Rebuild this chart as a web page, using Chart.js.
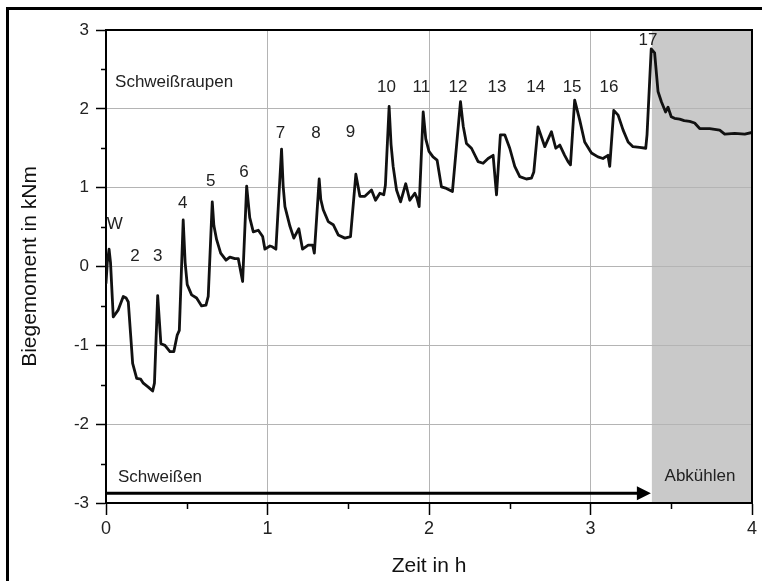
<!DOCTYPE html>
<html>
<head>
<meta charset="utf-8">
<script src="https://cdn.jsdelivr.net/npm/chart.js@4.4.0/dist/chart.umd.min.js"></script>
<style>
  html, body { margin: 0; padding: 0; background: #fff; }
  #wrap { width: 762px; height: 581px; }
</style>
</head>
<body>
<div id="wrap"><canvas id="chart" width="762" height="581"></canvas></div>
<script>
// ── Data ─────────────────────────────────────────────────────────────────────

const timeH = [
  0, 0.008, 0.019, 0.028, 0.045, 0.076, 0.107, 0.125, 0.138, 0.152,
  0.165, 0.19, 0.215, 0.231, 0.262, 0.289, 0.3, 0.32, 0.34, 0.365,
  0.396, 0.42, 0.441, 0.454, 0.478, 0.49, 0.503, 0.53, 0.561, 0.592, 0.619,
  0.633, 0.658, 0.668, 0.685, 0.71, 0.743, 0.767, 0.798, 0.819, 0.846, 0.871,
  0.89, 0.912, 0.943, 0.97, 0.984, 1.015, 1.03, 1.052, 1.087, 1.097, 1.108, 1.139,
  1.163, 1.194, 1.217, 1.252, 1.28, 1.29, 1.32, 1.33, 1.345, 1.376, 1.407,
  1.438, 1.479, 1.514, 1.547, 1.572, 1.603, 1.644, 1.669, 1.696, 1.72,
  1.73, 1.753, 1.765, 1.778, 1.799, 1.824, 1.856, 1.881, 1.912, 1.925, 1.939,
  1.964, 1.98, 2.0, 2.025, 2.05, 2.077, 2.108, 2.145, 2.195, 2.212, 2.232, 2.263,
  2.304, 2.335, 2.366, 2.397, 2.418, 2.442, 2.469, 2.5, 2.531, 2.562,
  2.603, 2.634, 2.649, 2.675, 2.717, 2.758, 2.785, 2.81, 2.84, 2.861,
  2.876, 2.902, 2.933, 2.964, 3.006, 3.046, 3.077, 3.108, 3.119, 3.144,
  3.171, 3.202, 3.233, 3.263, 3.304, 3.342, 3.35, 3.376, 3.397, 3.418,
  3.439, 3.465, 3.48, 3.5, 3.52, 3.552, 3.58, 3.614, 3.645, 3.676, 3.738, 3.8,
  3.831, 3.893, 3.955, 4.0
];

const momentKNm = [
  -0.21, 0.05, 0.22, 0.05, -0.64, -0.55, -0.38, -0.40, -0.45, -0.85,
  -1.23, -1.42, -1.43, -1.48, -1.53, -1.58, -1.48, -0.37, -0.98, -1.00,
  -1.08, -1.08, -0.87, -0.81, 0.59, 0.05, -0.23, -0.36, -0.40, -0.50, -0.49,
  -0.38, 0.82, 0.52, 0.34, 0.17, 0.08, 0.12, 0.10, 0.10, -0.19, 1.02,
  0.62, 0.44, 0.46, 0.38, 0.22, 0.26, 0.25, 0.22, 1.49, 1.02, 0.76, 0.51,
  0.36, 0.48, 0.22, 0.27, 0.27, 0.17, 1.11, 0.85, 0.72, 0.57, 0.53,
  0.40, 0.36, 0.38, 1.17, 0.89, 0.89, 0.97, 0.84, 0.93, 0.91,
  1.03, 2.03, 1.55, 1.27, 0.97, 0.82, 1.05, 0.84, 0.93, 0.87, 0.76,
  1.96, 1.62, 1.46, 1.39, 1.35, 1.01, 0.99, 0.95, 2.09, 1.78, 1.56, 1.50,
  1.33, 1.31, 1.37, 1.41, 0.91, 1.67, 1.67, 1.50, 1.27, 1.14,
  1.11, 1.12, 1.20, 1.77, 1.52, 1.71, 1.50, 1.54, 1.41, 1.33,
  1.29, 2.11, 1.86, 1.58, 1.44, 1.39, 1.37, 1.41, 1.27, 1.98,
  1.92, 1.73, 1.58, 1.52, 1.51, 1.50, 1.67, 2.76, 2.71, 2.22,
  2.09, 1.96, 2.02, 1.90, 1.88, 1.87, 1.85, 1.84, 1.82, 1.75, 1.75, 1.73,
  1.68, 1.69, 1.68, 1.70
];

const xTicks = [0, 1, 2, 3, 4];
const yTicks = [-3, -2, -1, 0, 1, 2, 3];
const xMinorTicks = [0.5, 1.5, 2.5, 3.5];
const yMinorTicks = [-2.5, -1.5, -0.5, 0.5, 1.5, 2.5];

// bead numbers (Schweißraupen) and where they sit, in chart units
const beadNames = ['W', '2', '3', '4', '5', '6', '7', '8', '9', '10', '11', '12', '13', '14', '15', '16', '17'];
const beadAtH   = [0.054, 0.18, 0.32, 0.475, 0.648, 0.854, 1.081, 1.30, 1.514, 1.737, 1.953, 2.18, 2.421, 2.661, 2.886, 3.115, 3.356];
const beadAtKNm = [0.54, 0.13, 0.13, 0.80, 1.08, 1.20, 1.69, 1.69, 1.70, 2.27, 2.27, 2.27, 2.27, 2.27, 2.27, 2.27, 2.87];

const coolingFrom = 3.38;   // Abkühlen phase starts here (h)
const weldArrowAt = -2.877; // kNm level of the Schweißen arrow

// ── Chart ────────────────────────────────────────────────────────────────────

const FONT = "'Liberation Sans', Arial, sans-serif";

const decor = {
  id: 'decor',
  beforeDraw(chart) {
    const { ctx, chartArea: a, scales: { x } } = chart;
    const x0 = x.getPixelForValue(coolingFrom);
    ctx.save();
    ctx.fillStyle = '#c9c9c9';
    ctx.fillRect(x0, a.top, a.right - x0, a.bottom - a.top);
    ctx.restore();
  },
  afterDraw(chart) {
    const { ctx, chartArea: a, scales: { x, y } } = chart;
    ctx.save();

    // frame on top / right
    ctx.strokeStyle = '#000';
    ctx.lineWidth = 2;
    ctx.beginPath();
    ctx.moveTo(a.left, a.top);
    ctx.lineTo(a.right, a.top);
    ctx.lineTo(a.right, a.bottom);
    ctx.stroke();

    // minor ticks
    ctx.lineWidth = 1.5;
    ctx.beginPath();
    xMinorTicks.forEach(v => {
      const px = Math.round(x.getPixelForValue(v)) + 0.5;
      ctx.moveTo(px, a.bottom);
      ctx.lineTo(px, a.bottom + 6);
    });
    yMinorTicks.forEach(v => {
      const py = Math.round(y.getPixelForValue(v)) + 0.5;
      ctx.moveTo(a.left, py);
      ctx.lineTo(a.left - 5, py);
    });
    ctx.stroke();

    // bead labels
    ctx.fillStyle = '#222';
    ctx.font = '17px ' + FONT;
    ctx.textAlign = 'center';
    ctx.textBaseline = 'middle';
    beadNames.forEach((t, i) => {
      ctx.fillText(t, x.getPixelForValue(beadAtH[i]), y.getPixelForValue(beadAtKNm[i]));
    });

    ctx.textAlign = 'left';
    ctx.fillText('Schweißraupen', x.getPixelForValue(0.056), y.getPixelForValue(2.34));
    ctx.fillText('Schweißen', x.getPixelForValue(0.074), y.getPixelForValue(-2.68));
    ctx.textAlign = 'center';
    ctx.fillText('Abkühlen', x.getPixelForValue(3.678), y.getPixelForValue(-2.667));

    // Schweißen arrow
    const ay = y.getPixelForValue(weldArrowAt);
    const tip = x.getPixelForValue(coolingFrom) - 1;
    ctx.strokeStyle = '#000';
    ctx.lineWidth = 3;
    ctx.beginPath();
    ctx.moveTo(a.left, ay);
    ctx.lineTo(tip - 10, ay);
    ctx.stroke();
    ctx.fillStyle = '#000';
    ctx.beginPath();
    ctx.moveTo(tip, ay);
    ctx.lineTo(tip - 14, ay - 7);
    ctx.lineTo(tip - 14, ay + 7);
    ctx.closePath();
    ctx.fill();

    // outer picture frame
    ctx.lineWidth = 3;
    ctx.strokeRect(7.5, 8.5, 800, 800);
    ctx.restore();
  }
};

new Chart(document.getElementById('chart'), {
  type: 'line',
  data: {
    datasets: [{
      data: timeH.map((t, i) => ({ x: t, y: momentKNm[i] })),
      borderColor: '#111',
      borderWidth: 2.8,
      borderJoinStyle: 'round',
      borderCapStyle: 'round',
      pointRadius: 0,
      tension: 0,
      fill: false
    }]
  },
  options: {
    responsive: false,
    animation: false,
    events: [],
    layout: { padding: { left: 0, right: 10, top: 30, bottom: 0 } },
    plugins: { legend: { display: false }, tooltip: { enabled: false } },
    scales: {
      x: {
        type: 'linear', min: 0, max: 4,
        afterBuildTicks: s => { s.ticks = xTicks.map(v => ({ value: v })); },
        afterFit: s => { s.height = 78; },
        ticks: { color: '#222', padding: 3, maxRotation: 0, font: { family: FONT, size: 18 } },
        grid: { color: '#b4b4b4', lineWidth: 1, tickLength: 12, tickColor: '#000', tickWidth: 1.5 },
        border: { display: true, color: '#000', width: 2 },
        title: { display: true, text: 'Zeit in h', color: '#111', padding: { top: 0, bottom: 2 },
                 font: { family: FONT, size: 21 } }
      },
      y: {
        type: 'linear', min: -3, max: 3,
        afterBuildTicks: s => { s.ticks = yTicks.map(v => ({ value: v })); },
        afterFit: s => { s.width = 106; },
        ticks: { color: '#222', padding: 7, font: { family: FONT, size: 17 } },
        grid: { color: '#b4b4b4', lineWidth: 1, tickLength: 10, tickColor: '#000', tickWidth: 1.5 },
        border: { display: true, color: '#000', width: 2 },
        title: { display: true, text: 'Biegemoment in kNm', color: '#111', padding: { top: 18, bottom: 0 },
                 font: { family: FONT, size: 21 } }
      }
    }
  },
  plugins: [decor]
});
</script>
</body>
</html>
